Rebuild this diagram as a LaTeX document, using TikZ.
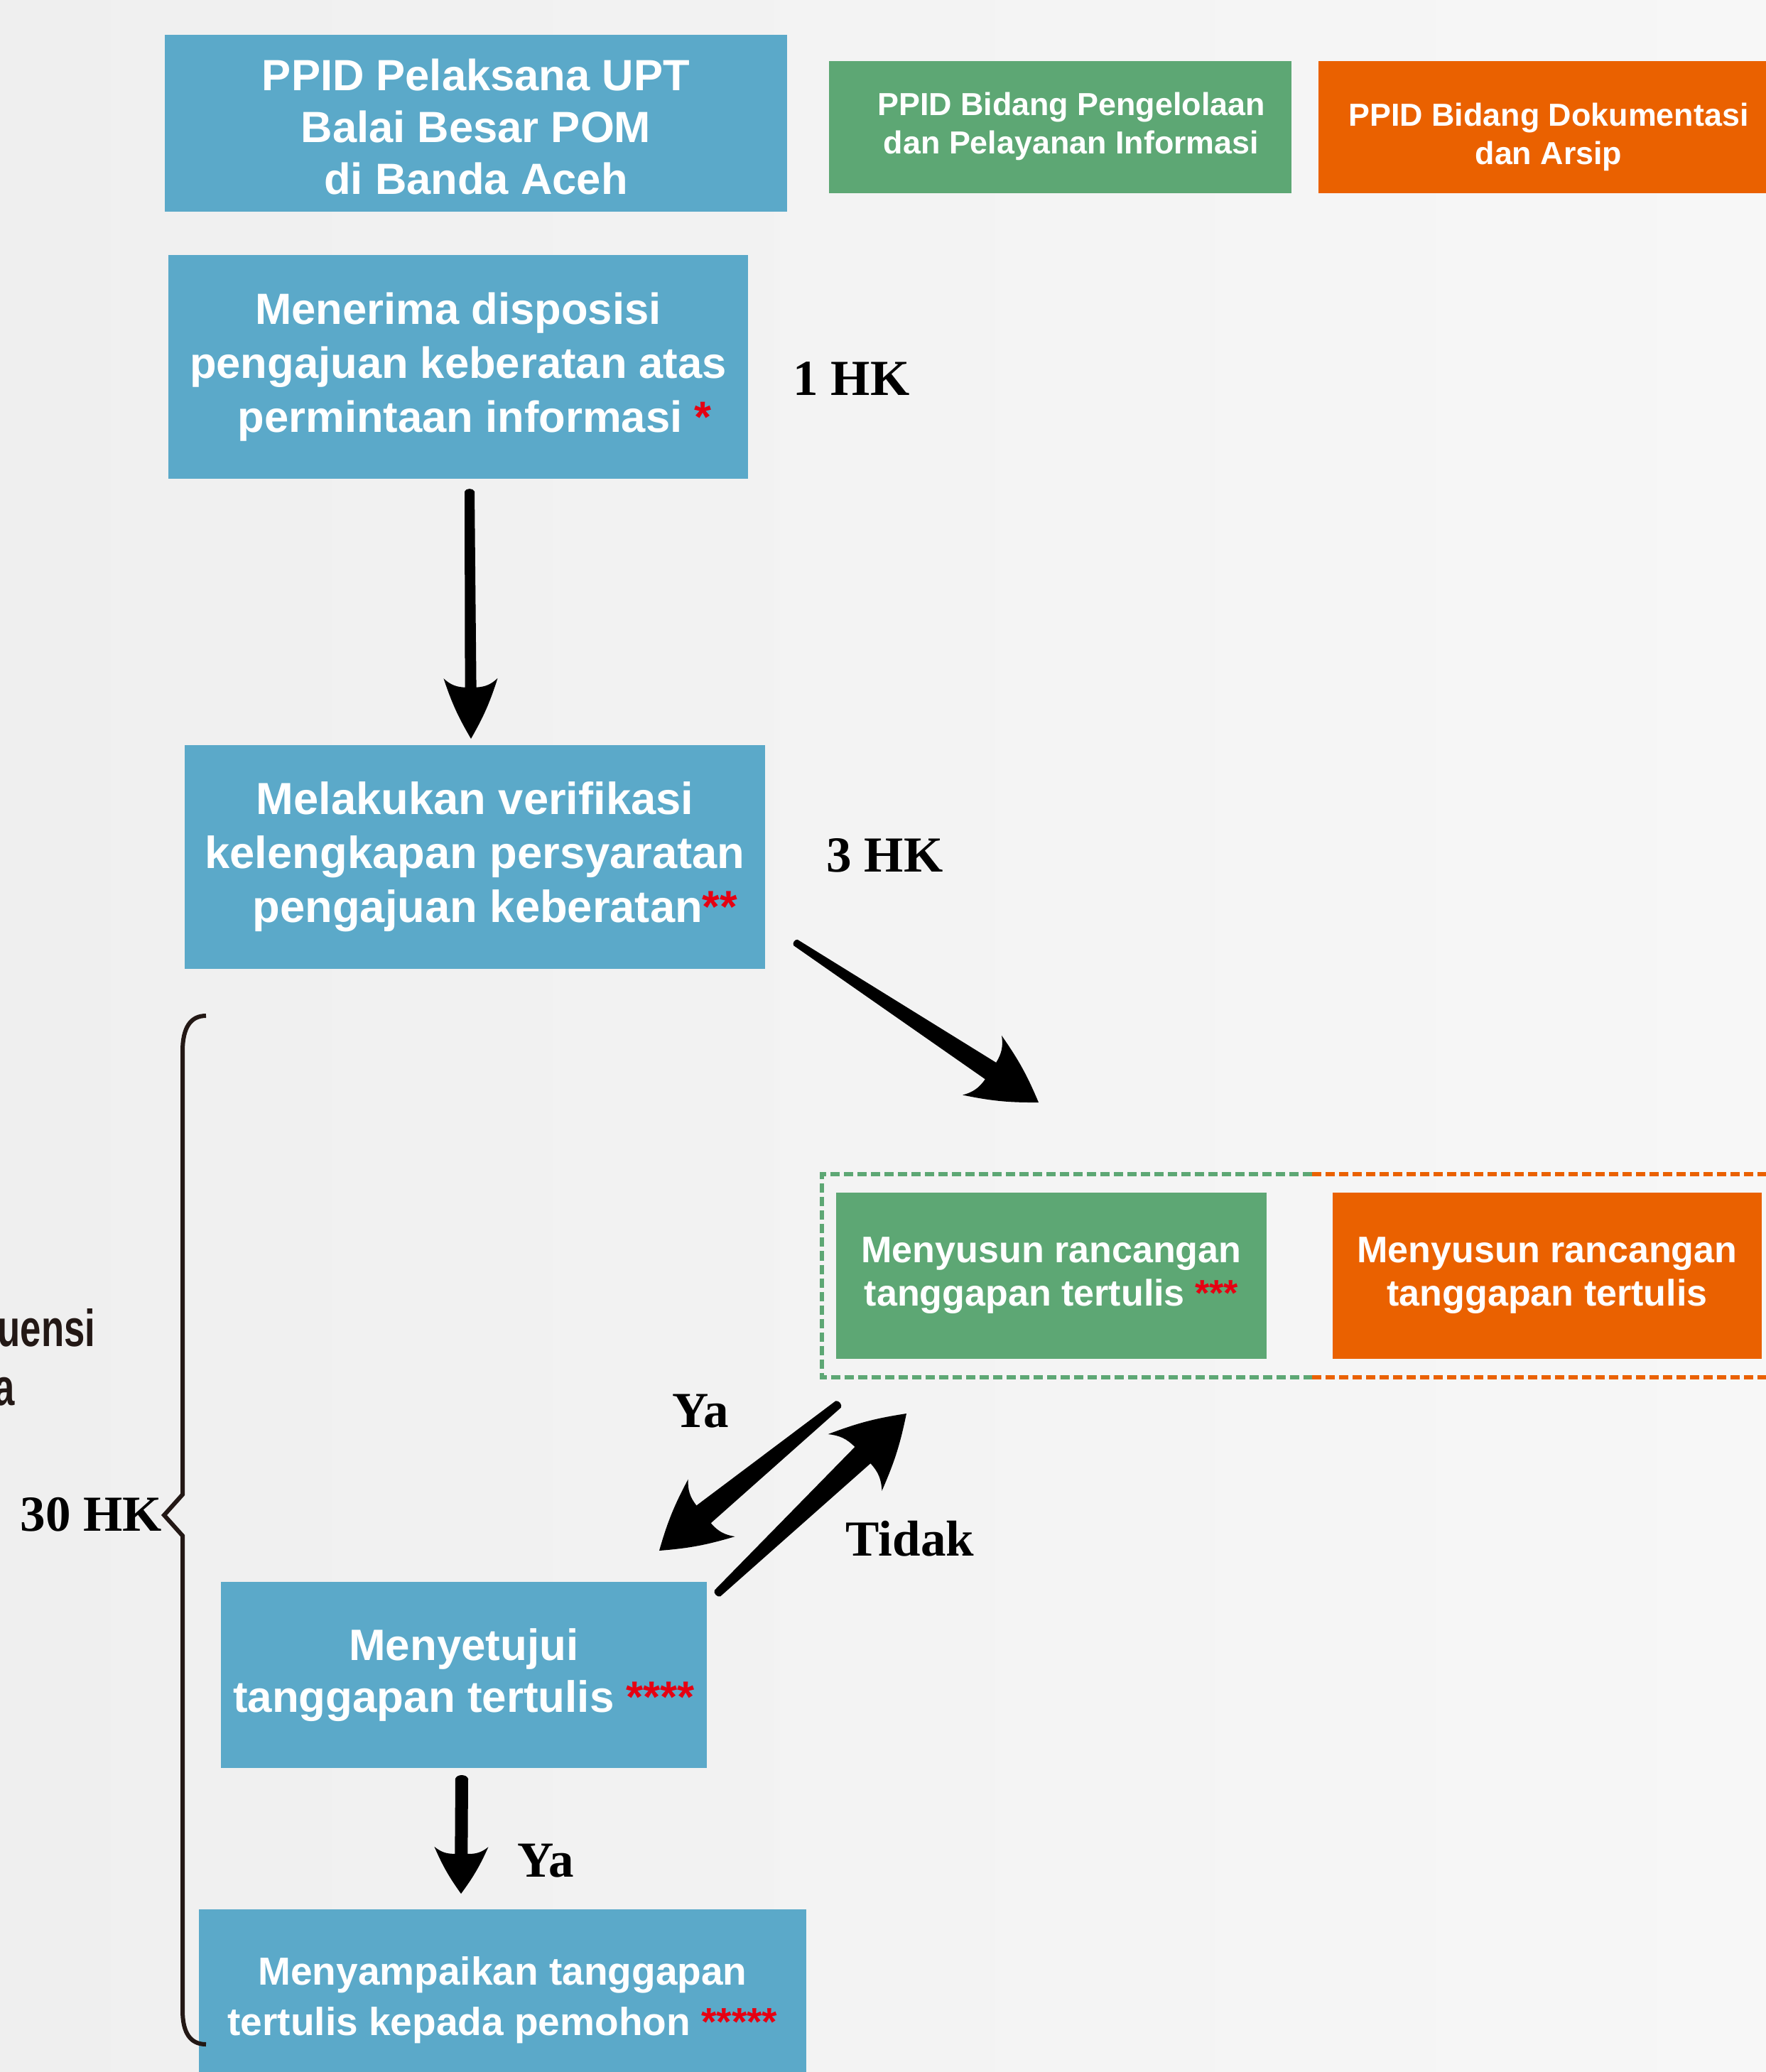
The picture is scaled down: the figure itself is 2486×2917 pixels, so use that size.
\documentclass[tikz,border=0pt]{standalone}
\usepackage{fontspec}
\usepackage{graphicx}
\setmainfont{Liberation Sans}
\newfontfamily\slabfont{Liberation Serif}
\usetikzlibrary{calc}
\definecolor{ppblue}{HTML}{5BA9C9}
\definecolor{ppgreen}{HTML}{5DA774}
\definecolor{pporange}{HTML}{EA6100}
\definecolor{starred}{HTML}{E60012}
\definecolor{bgleft}{HTML}{EFEFEF}
\definecolor{bgright}{HTML}{F7F7F7}
\definecolor{inkdark}{HTML}{231815}
\newcommand\myfs[2]{\fontsize{#1}{#2}\selectfont}
\newcommand\redstar[1]{\textcolor{starred}{#1}}
% #1 tail, #2 tip, #3 tail half width, #4 neck half width, #5 head length, #6 head half width
\newcommand\handarrow[6]{%
  \fill[inkarrow]
    ($(#1)!#3!90:(#2)$)
    -- ($(#2)!0.85*#5!(#1)!#4!90:(#2)$)
    to[bend right=20] ($(#2)!#5!(#1)!#6!90:(#2)$)
    to[bend left=6] (#2)
    to[bend left=6] ($(#2)!#5!(#1)!#6!-90:(#2)$)
    to[bend right=20] ($(#2)!0.85*#5!(#1)!#4!-90:(#2)$)
    -- ($(#1)!#3!-90:(#2)$)
    to[bend left=70] ($(#1)!#3!90:(#2)$) -- cycle;
}
\tikzset{
  shapebox/.style={rectangle, inner sep=0pt, draw=none},
  boxtext/.style={inner sep=0pt, align=center, text=white, font=\bfseries\myfs{17.6pt}{21.6pt}},
  labeltext/.style={inner sep=0pt, anchor=base west, text=black, font=\slabfont\bfseries\myfs{20.2pt}{24pt}},
  cuttext/.style={inner sep=0pt, anchor=base east, text=inkdark, font=\bfseries\myfs{20.8pt}{24pt}},
  dashgreen/.style={draw=ppgreen, line width=0.06cm, dash pattern=on 0.13cm off 0.06cm},
  dashorange/.style={draw=pporange, line width=0.06cm, dash pattern=on 0.13cm off 0.06cm},
  bracestyle/.style={draw=inkdark, line width=0.06cm, line join=miter},
  inkarrow/.style={fill=black},
}
\begin{document}
\begin{tikzpicture}[x=0.01cm, y=-0.01cm]
\useasboundingbox (0,0) rectangle (2486,2917);
\clip (0,0) rectangle (2486,2917);
\shade[left color=bgleft, right color=bgright] (0,0) rectangle (2486,2917);

% header row
\node[shapebox, fill=ppblue, minimum width=8.76cm, minimum height=2.49cm] (hdrB) at (670,173.5) {};
\node[boxtext, font=\bfseries\myfs{17.5pt}{20.77pt}] (hdrBt) at (670,178.5) {PPID Pelaksana UPT\\Balai Besar POM\\di Banda Aceh};
\node[shapebox, fill=ppgreen, minimum width=6.51cm, minimum height=1.86cm] (hdrG) at (1492.5,179) {};
\node[boxtext, font=\bfseries\myfs{12.75pt}{15.36pt}] (hdrGt) at (1508,178) {PPID Bidang Pengelolaan\\dan Pelayanan Informasi};
\node[shapebox, fill=pporange, minimum width=6.48cm, minimum height=1.86cm] (hdrO) at (2180,179) {};
\node[boxtext, font=\bfseries\myfs{12.75pt}{15.36pt}] (hdrOt) at (2180,193) {PPID Bidang Dokumentasi\\dan Arsip};

% process boxes
\node[shapebox, boxtext, fill=ppblue, minimum width=8.16cm, minimum height=3.15cm, font=\bfseries\myfs{17.5pt}{21.6pt}] (recv) at (645,516.5)
  {Menerima disposisi\\pengajuan keberatan atas\\\hspace*{0.75em}permintaan informasi \redstar{*}};
\node[shapebox, boxtext, fill=ppblue, minimum width=8.17cm, minimum height=3.15cm, font=\bfseries\myfs{18pt}{21.6pt}] (verif) at (668.5,1206.5)
  {Melakukan verifikasi\\kelengkapan persyaratan\\\hspace*{0.9em}pengajuan keberatan\redstar{**}};
\node[shapebox, boxtext, fill=ppgreen, minimum width=6.06cm, minimum height=2.34cm, font=\bfseries\myfs{14.8pt}{17.36pt}] (draftG) at (1480,1796)
  {Menyusun rancangan\\tanggapan tertulis \redstar{***}};
\node[shapebox, boxtext, fill=pporange, minimum width=6.04cm, minimum height=2.34cm, font=\bfseries\myfs{14.8pt}{17.36pt}] (draftO) at (2178,1796)
  {Menyusun rancangan\\tanggapan tertulis};
\node[shapebox, boxtext, fill=ppblue, minimum width=6.84cm, minimum height=2.62cm, font=\bfseries\myfs{17.6pt}{20.77pt}] (approve) at (653,2358)
  {Menyetujui\\tanggapan tertulis \redstar{****}};
\node[shapebox, boxtext, fill=ppblue, minimum width=8.55cm, minimum height=2.56cm, font=\bfseries\myfs{15.65pt}{20.2pt}] (deliver) at (707.5,2816)
  {Menyampaikan tanggapan\\tertulis kepada pemohon \redstar{*****}};

% dashed frame
\draw[dashgreen] (1847,1653) -- (1157,1653) -- (1157,1939) -- (1847,1939);
\draw[dashorange] (1847,1653) -- (2500,1653);
\draw[dashorange] (1847,1939) -- (2500,1939);

% labels
\node[labeltext] (hk1) at (1116,556) {1 HK};
\node[labeltext] (hk3) at (1163,1227) {3 HK};
\node[labeltext] (yaup) at (946,2009) {Ya};
\node[labeltext] (tidak) at (1190,2190) {Tidak};
\node[labeltext] (yalow) at (728,2642) {Ya};
\node[labeltext] (hk30) at (28,2155) {30 HK};
\node[cuttext] (cut1) at (135,1895) {\scalebox{0.72}[1]{uensi}};
\node[cuttext] (cut2) at (21,1978) {\scalebox{0.72}[1]{a}};

% brace
\draw[bracestyle] (290,1430) .. controls (268,1430) and (257,1447) .. (257,1480)
  -- (257,2104) -- (231,2133) -- (257,2162) -- (257,2830)
  .. controls (257,2862) and (268,2878) .. (290,2878);

% arrows
\coordinate (a1s) at (661,692);  \coordinate (a1e) at (663,1040);
\handarrow{a1s}{a1e}{0.07cm}{0.08cm}{0.85cm}{0.38cm}
\coordinate (a2s) at (1120,1327); \coordinate (a2e) at (1462,1552);
\handarrow{a2s}{a2e}{0.05cm}{0.14cm}{0.95cm}{0.5cm}
\coordinate (a3s) at (1180,1977); \coordinate (a3e) at (928,2183);
\handarrow{a3s}{a3e}{0.06cm}{0.16cm}{0.95cm}{0.52cm}
\coordinate (a4s) at (1010,2243); \coordinate (a4e) at (1276,1990);
\handarrow{a4s}{a4e}{0.06cm}{0.16cm}{1.0cm}{0.55cm}
\coordinate (a5s) at (650,2504); \coordinate (a5e) at (649,2666);
\handarrow{a5s}{a5e}{0.09cm}{0.09cm}{0.66cm}{0.38cm}
\end{tikzpicture}
\end{document}
